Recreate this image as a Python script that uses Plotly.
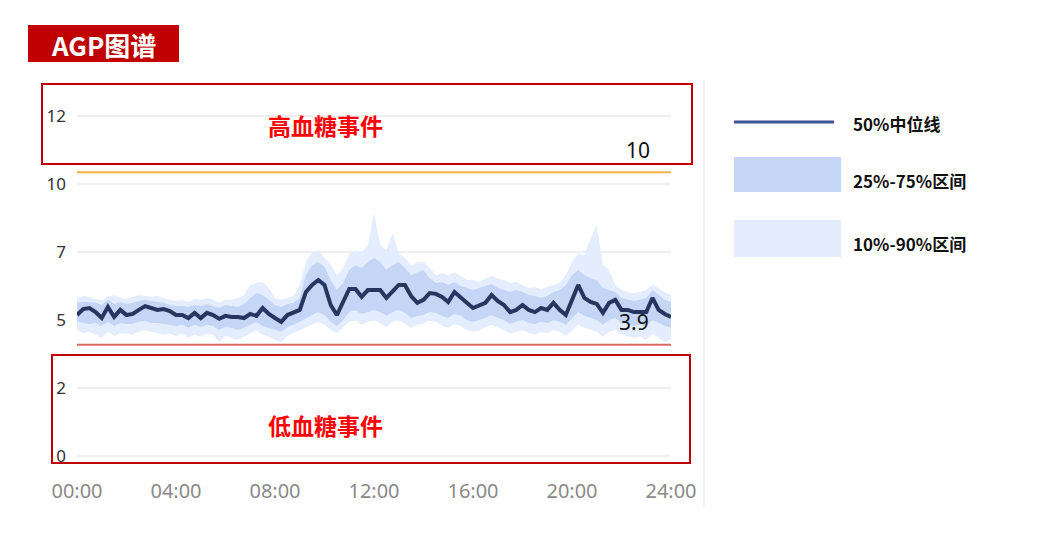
import plotly.graph_objects as go

# 15-minute grid, 00:00 .. 24:00 (hours)
HOURS = [i * 0.25 for i in range(97)]

P50 = [
    5.18, 5.40, 5.44, 5.29, 5.07, 5.48, 5.11, 5.37,
    5.18, 5.22, 5.37, 5.51, 5.44, 5.37, 5.40, 5.33,
    5.18, 5.18, 5.07, 5.26, 5.07, 5.26, 5.18, 5.04,
    5.15, 5.11, 5.11, 5.07, 5.22, 5.15, 5.44, 5.22,
    5.07, 4.93, 5.18, 5.26, 5.37, 6.03, 6.29, 6.47,
    6.29, 5.55, 5.18, 5.66, 6.14, 6.14, 5.85, 6.10,
    6.10, 6.10, 5.81, 6.03, 6.29, 6.29, 5.88, 5.63,
    5.74, 5.99, 5.96, 5.85, 5.66, 6.03, 5.81, 5.63,
    5.44, 5.55, 5.63, 5.92, 5.70, 5.55, 5.29, 5.37,
    5.55, 5.37, 5.29, 5.44, 5.37, 5.63, 5.37, 5.18,
    5.74, 6.29, 5.81, 5.66, 5.59, 5.26, 5.63, 5.74,
    5.37, 5.37, 5.29, 5.29, 5.29, 5.81, 5.37, 5.22,
    5.11,
]
P75 = [
    5.63, 5.66, 5.66, 5.63, 5.55, 5.74, 5.59, 5.66,
    5.59, 5.63, 5.70, 5.74, 5.70, 5.66, 5.63, 5.55,
    5.51, 5.51, 5.48, 5.55, 5.51, 5.59, 5.51, 5.44,
    5.55, 5.51, 5.48, 5.59, 5.81, 5.99, 5.92, 5.74,
    5.55, 5.48, 5.59, 5.63, 5.81, 6.65, 7.02, 7.13,
    6.95, 6.47, 6.10, 6.36, 6.84, 7.02, 6.91, 7.13,
    7.28, 7.13, 6.84, 7.02, 7.13, 6.91, 6.65, 6.76,
    6.84, 6.54, 6.36, 6.40, 6.29, 6.40, 6.25, 6.18,
    6.10, 6.18, 6.25, 6.32, 6.18, 6.10, 6.03, 6.10,
    6.03, 5.92, 5.88, 5.81, 5.88, 6.03, 6.10, 6.29,
    6.65, 6.84, 6.65, 6.54, 6.47, 6.18, 6.10, 6.03,
    5.81, 5.74, 5.70, 5.74, 5.81, 6.10, 5.92, 5.74,
    5.66,
]
P90 = [
    5.81, 5.88, 5.85, 5.77, 5.74, 5.85, 5.92, 5.81,
    5.77, 5.85, 5.92, 5.88, 5.85, 5.88, 5.81, 5.74,
    5.70, 5.74, 5.66, 5.77, 5.74, 5.81, 5.74, 5.63,
    5.74, 5.74, 5.81, 5.92, 6.29, 6.36, 6.40, 6.18,
    5.81, 5.74, 5.81, 5.88, 6.29, 7.13, 7.50, 7.57,
    7.28, 7.02, 6.65, 6.91, 7.46, 7.57, 7.50, 7.76,
    8.93, 7.76, 7.57, 8.20, 7.46, 7.28, 7.02, 7.13,
    7.13, 6.91, 6.65, 6.73, 6.65, 6.76, 6.62, 6.47,
    6.47, 6.40, 6.54, 6.62, 6.54, 6.47, 6.36, 6.40,
    6.29, 6.18, 6.21, 6.14, 6.21, 6.29, 6.36, 6.65,
    7.13, 7.46, 7.38, 8.01, 8.49, 7.02, 6.84, 6.29,
    6.10, 6.03, 5.99, 6.03, 6.10, 6.29, 6.18, 6.03,
    5.92,
]
P25 = [
    4.93, 4.89, 4.85, 4.89, 4.78, 4.93, 4.78, 4.89,
    4.85, 4.85, 4.93, 4.96, 4.89, 4.89, 4.85, 4.82,
    4.78, 4.82, 4.71, 4.82, 4.74, 4.82, 4.78, 4.63,
    4.74, 4.71, 4.63, 4.71, 4.82, 4.93, 4.78, 4.71,
    4.63, 4.56, 4.74, 4.82, 4.93, 5.07, 5.18, 5.29,
    5.18, 4.93, 4.78, 5.00, 5.29, 5.37, 5.22, 5.29,
    5.37, 5.29, 5.15, 5.29, 5.37, 5.26, 5.07, 5.15,
    5.18, 5.29, 5.26, 5.15, 5.07, 5.22, 5.15, 5.00,
    4.93, 5.00, 5.07, 5.18, 5.07, 5.00, 4.85, 4.93,
    5.00, 4.89, 4.85, 4.93, 4.89, 5.00, 4.93, 4.82,
    5.07, 5.29, 5.15, 5.07, 5.00, 4.82, 5.00, 5.07,
    4.89, 4.85, 4.78, 4.82, 4.78, 5.00, 4.89, 4.78,
    4.71,
]
P10 = [
    4.63, 4.52, 4.56, 4.45, 4.34, 4.56, 4.41, 4.52,
    4.49, 4.45, 4.56, 4.63, 4.56, 4.52, 4.45, 4.49,
    4.41, 4.49, 4.34, 4.45, 4.38, 4.49, 4.45, 4.19,
    4.41, 4.34, 4.26, 4.38, 4.49, 4.63, 4.45, 4.38,
    4.26, 4.19, 4.41, 4.52, 4.63, 4.71, 4.82, 4.93,
    4.82, 4.63, 4.52, 4.71, 4.93, 5.00, 4.82, 4.93,
    5.00, 4.89, 4.74, 4.93, 5.00, 4.85, 4.71, 4.82,
    4.85, 5.00, 4.93, 4.78, 4.71, 4.85, 4.78, 4.63,
    4.56, 4.63, 4.74, 4.82, 4.71, 4.63, 4.49, 4.56,
    4.63, 4.52, 4.45, 4.56, 4.52, 4.63, 4.56, 4.41,
    4.63, 4.82, 4.71, 4.63, 4.56, 4.38, 4.56, 4.63,
    4.45, 4.41, 4.34, 4.38, 4.26, 4.49, 4.34, 4.19,
    4.26,
]

HIGH_LIMIT = 10.44   # drawn line, labelled "10"
LOW_LIMIT = 4.09     # drawn line, labelled "3.9"

X_TICKS = [0, 4, 8, 12, 16, 20, 24]
X_LABELS = ["00:00", "04:00", "08:00", "12:00", "16:00", "20:00", "24:00"]
Y_TICKS = [0, 2.5, 5, 7.5, 10, 12.5]
Y_LABELS = ["0", "2", "5", "7", "10", "12"]

NAVY = "#26365f"
MID_BLUE = "#c5d5f5"
LIGHT_BLUE = "#e3edfd"
BOX_RED = "#c00000"
CJK = "Noto Sans CJK SC"

# page body has an 8px margin, so the figure is a bit smaller than the window
OFF = 8
W, H = 1034, 533
ML, MR, MT, MB = 69, 371, 107, 84


def px(x):
    """screen x (window pixels) -> paper x"""
    return (x - OFF - ML) / (W - ML - MR)


def py(y):
    """screen y (window pixels) -> paper y"""
    return (H - MB - (y - OFF)) / (H - MT - MB)


fig = go.Figure()

fig.add_trace(go.Scatter(x=HOURS, y=P10, mode="lines", line=dict(width=0),
                         hoverinfo="skip", showlegend=False))
fig.add_trace(go.Scatter(x=HOURS, y=P90, mode="lines", line=dict(width=0),
                         fill="tonexty", fillcolor=LIGHT_BLUE, name="10%-90%区间",
                         showlegend=False))
fig.add_trace(go.Scatter(x=HOURS, y=P25, mode="lines", line=dict(width=0),
                         hoverinfo="skip", showlegend=False))
fig.add_trace(go.Scatter(x=HOURS, y=P75, mode="lines", line=dict(width=0),
                         fill="tonexty", fillcolor=MID_BLUE, name="25%-75%区间",
                         showlegend=False))
fig.add_trace(go.Scatter(x=[0, 24], y=[HIGH_LIMIT, HIGH_LIMIT], mode="lines",
                         line=dict(color="#f0b04a", width=2), showlegend=False))
fig.add_trace(go.Scatter(x=[0, 24], y=[LOW_LIMIT, LOW_LIMIT], mode="lines",
                         line=dict(color="#dd6a66", width=2), showlegend=False))
fig.add_trace(go.Scatter(x=HOURS, y=P50, mode="lines", line=dict(color=NAVY, width=4),
                         name="50%中位线", showlegend=False))

shapes = [
    # title badge
    dict(type="rect", xref="paper", yref="paper", x0=px(28), x1=px(179), y0=py(25), y1=py(62),
         fillcolor=BOX_RED, line=dict(width=0)),
    # high / low event boxes
    dict(type="rect", xref="paper", yref="paper", x0=px(42), x1=px(692), y0=py(84), y1=py(164),
         line=dict(color=BOX_RED, width=2)),
    dict(type="rect", xref="paper", yref="paper", x0=px(52), x1=px(690), y0=py(355), y1=py(463),
         line=dict(color=BOX_RED, width=2)),
    # card border on the right
    dict(type="line", xref="paper", yref="paper", x0=px(704), x1=px(704), y0=py(80), y1=py(507),
         line=dict(color="#f0f0f0", width=1.5)),
    # legend swatches
    dict(type="line", xref="paper", yref="paper", x0=px(734), x1=px(834), y0=py(122), y1=py(122),
         line=dict(color="#3b5494", width=3)),
    dict(type="rect", xref="paper", yref="paper", x0=px(734), x1=px(841), y0=py(157), y1=py(192),
         fillcolor=MID_BLUE, line=dict(width=0)),
    dict(type="rect", xref="paper", yref="paper", x0=px(734), x1=px(841), y0=py(220), y1=py(257),
         fillcolor=LIGHT_BLUE, line=dict(width=0)),
]

annotations = [
    dict(text="<b>AGP图谱</b>", xref="paper", yref="paper", x=px(103), y=py(45),
         xanchor="center", yanchor="middle", showarrow=False,
         font=dict(family=CJK, size=26, color="white")),
    dict(text="<b>高血糖事件</b>", xref="paper", yref="paper", x=px(325), y=py(125),
         xanchor="center", yanchor="middle", showarrow=False,
         font=dict(family=CJK, size=23, color="#ff0000")),
    dict(text="<b>低血糖事件</b>", xref="paper", yref="paper", x=px(325), y=py(425),
         xanchor="center", yanchor="middle", showarrow=False,
         font=dict(family=CJK, size=23, color="#ff0000")),
    dict(text="10", xref="x", yref="y", x=22.65, y=11.25, showarrow=False,
         xanchor="center", yanchor="middle",
         font=dict(family="Noto Sans", size=21, color="#111111")),
    dict(text="3.9", xref="x", yref="y", x=22.5, y=4.92, showarrow=False,
         xanchor="center", yanchor="middle",
         font=dict(family="Noto Sans", size=21, color="#111111")),
]
for label, y in [("50%中位线", 123), ("25%-75%区间", 180), ("10%-90%区间", 243)]:
    annotations.append(dict(text=f"<b>{label}</b>", xref="paper", yref="paper",
                            x=px(851), y=py(y), xanchor="left", yanchor="middle",
                            showarrow=False,
                            font=dict(family=CJK, size=17, color="#111111")))

fig.update_layout(
    width=W, height=H,
    margin=dict(l=ML, r=MR, t=MT, b=MB),
    paper_bgcolor="white", plot_bgcolor="white",
    shapes=shapes, annotations=annotations,
    showlegend=False,
)
fig.update_xaxes(range=[0, 24], tickvals=X_TICKS, ticktext=X_LABELS, showgrid=False,
                 zeroline=False, showline=False, ticks="", ticklabelstandoff=20,
                 tickfont=dict(family="Noto Sans", size=20, color="#8a8a8a"))
fig.update_yaxes(range=[-0.05, 12.55], tickvals=Y_TICKS, ticktext=Y_LABELS,
                 showgrid=True, gridcolor="#efefef", gridwidth=1.5, zeroline=False,
                 showline=False, ticks="", ticklabelstandoff=10,
                 tickfont=dict(family="Noto Sans", size=17, color="#333333"))

fig.write_html("out.html")
